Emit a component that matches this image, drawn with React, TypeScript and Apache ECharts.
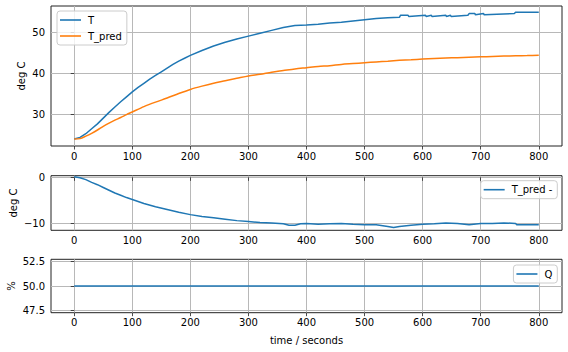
import React, { useEffect, useRef } from 'react';
import * as echarts from 'echarts';

// ---- data ----
const tTime = [0, 10, 20, 30, 40, 50, 60, 70, 80, 90, 100, 110, 120, 130, 140, 150, 160, 170, 180, 190, 200, 220, 240, 260, 280, 300, 320, 340, 360, 380, 400, 420, 440, 460, 480, 500, 520, 540, 560, 562, 575, 576, 605, 606, 615, 616, 640, 641, 648, 649, 678, 680, 690, 691, 705, 706, 758, 760, 800];
const tValues = [24.0, 24.4, 25.3, 26.5, 27.7, 29.1, 30.5, 31.8, 33.1, 34.3, 35.5, 36.6, 37.6, 38.6, 39.5, 40.4, 41.3, 42.2, 43.0, 43.7, 44.4, 45.6, 46.7, 47.6, 48.4, 49.1, 49.8, 50.5, 51.2, 51.7, 51.8, 52.0, 52.3, 52.5, 52.8, 53.1, 53.4, 53.6, 53.7, 54.2, 54.2, 53.9, 54.2, 53.9, 54.2, 53.9, 54.2, 53.9, 54.2, 53.9, 54.2, 54.6, 54.6, 54.3, 54.6, 54.3, 54.6, 54.9, 54.9];

const predTime = [0, 10, 20, 30, 40, 50, 60, 70, 80, 90, 100, 120, 140, 160, 180, 200, 220, 240, 260, 280, 300, 320, 340, 360, 380, 400, 420, 440, 460, 480, 500, 520, 540, 560, 580, 600, 620, 640, 660, 680, 700, 720, 740, 760, 780, 800];
const predValues = [24.0, 24.1, 24.7, 25.4, 26.2, 27.1, 27.9, 28.6, 29.25, 29.95, 30.6, 31.9, 33.0, 34.0, 35.1, 36.1, 36.9, 37.6, 38.2, 38.8, 39.4, 39.8, 40.3, 40.7, 41.1, 41.4, 41.7, 41.9, 42.2, 42.4, 42.6, 42.8, 43.0, 43.2, 43.35, 43.5, 43.65, 43.75, 43.85, 43.95, 44.05, 44.15, 44.25, 44.3, 44.35, 44.45];

const diffTime = [0, 10, 20, 30, 40, 50, 60, 70, 80, 90, 100, 120, 140, 160, 180, 200, 220, 240, 260, 280, 300, 320, 340, 360, 370, 380, 390, 400, 420, 440, 460, 480, 500, 520, 540, 550, 560, 580, 600, 620, 640, 660, 680, 700, 720, 740, 760, 762, 780, 800];
const diffValues = [0.1, -0.1, -0.5, -1.1, -1.6, -2.2, -2.8, -3.4, -3.9, -4.4, -4.8, -5.7, -6.4, -7.0, -7.6, -8.1, -8.5, -8.8, -9.1, -9.4, -9.6, -9.8, -9.9, -10.1, -10.4, -10.4, -10.1, -10.0, -10.2, -10.1, -10.0, -10.2, -10.3, -10.3, -10.7, -10.9, -10.7, -10.4, -10.2, -10.1, -9.9, -10.0, -10.3, -10.0, -10.0, -9.9, -10.0, -10.3, -10.3, -10.3];

const qTime = [0, 800];
const qValues = [50, 50];

const xTicks = [0, 100, 200, 300, 400, 500, 600, 700, 800];
const yTicksTop = [30, 40, 50];
const yTicksMid = [-10, 0];
const yTicksBot = [47.5, 50, 52.5];

const seriesNames = ['T', 'T_pred', 'T_pred -', 'Q'];
const axisTitles = { left: 'deg C', leftPct: '%', bottom: 'time / seconds' };

const pairs = (xs: number[], ys: number[]) => xs.map((x, i) => [x, ys[i]]);

const BLUE = '#1f77b4';
const ORANGE = '#ff7f0e';
const FONT = 'DejaVu Sans';
const TEXT = '#000';
const SPINE = '#222';
const GRIDC = '#b8b8b8';

const fmtMinus = (v: number) => String(v).replace('-', '\u2212');

function xAxisFor(gridIndex: number) {
  return {
    type: 'value',
    gridIndex,
    min: -40,
    max: 840,
    axisLine: { show: false },
    axisTick: { show: true, customValues: xTicks, length: 3.5, lineStyle: { color: SPINE, width: 0.8 } },
    axisLabel: { customValues: xTicks, margin: 5, color: TEXT, fontFamily: FONT, fontSize: 10, formatter: (v: number) => fmtMinus(v) },
    splitLine: { show: true, lineStyle: { color: GRIDC, width: 1 } },
  };
}

function yAxisFor(gridIndex: number, min: number, max: number, ticks: number[], fmt: (v: number) => string) {
  return {
    type: 'value',
    gridIndex,
    min,
    max,
    axisLine: { show: false },
    axisTick: { show: true, customValues: ticks, length: 3.5, lineStyle: { color: SPINE, width: 0.8 } },
    axisLabel: { customValues: ticks, margin: 6, color: TEXT, fontFamily: FONT, fontSize: 10, formatter: fmt },
    splitLine: { show: true, lineStyle: { color: GRIDC, width: 1 } },
  };
}

const legendBase = {
  orient: 'vertical',
  backgroundColor: 'rgba(255,255,255,0.8)',
  borderColor: '#cccccc',
  borderWidth: 1,
  borderRadius: 3,
  padding: [3, 5, 3, 3],
  icon: 'rect',
  symbolKeepAspect: false,
  itemWidth: 21,
  itemHeight: 1.6,
  itemGap: 4,
  textStyle: { color: TEXT, fontFamily: FONT, fontSize: 10, lineHeight: 12, padding: [0, 0, 0, 2] },
};

export default function App() {
  const ref = useRef<HTMLDivElement>(null);
  useEffect(() => {
    const chart = echarts.init(ref.current!, null, { renderer: 'svg' });
    const option: any = {
      animation: false,
      backgroundColor: '#ffffff',
      grid: [
        { left: 51, top: 6, width: 511, height: 140, show: true, borderColor: SPINE, borderWidth: 1, backgroundColor: 'transparent' },
        { left: 51, top: 175.7, width: 511, height: 54.6, show: true, borderColor: SPINE, borderWidth: 1, backgroundColor: 'transparent' },
        { left: 51, top: 259.3, width: 511, height: 53.4, show: true, borderColor: SPINE, borderWidth: 1, backgroundColor: 'transparent' },
      ],
      xAxis: [xAxisFor(0), xAxisFor(1), xAxisFor(2)],
      yAxis: [
        yAxisFor(0, 22.3, 56.45, yTicksTop, (v) => fmtMinus(v)),
        yAxisFor(1, -11.5, 0.35, yTicksMid, (v) => fmtMinus(v)),
        yAxisFor(2, 47.25, 52.75, yTicksBot, (v) => v.toFixed(1)),
      ],
      legend: [
        { ...legendBase, left: 57, top: 11, data: [seriesNames[0], seriesNames[1]] },
        { ...legendBase, right: 10.7, top: 180.7, data: [seriesNames[2]] },
        { ...legendBase, right: 10.7, top: 265, data: [seriesNames[3]] },
      ],
      series: [
        { name: seriesNames[0], type: 'line', xAxisIndex: 0, yAxisIndex: 0, data: pairs(tTime, tValues), symbol: 'none', lineStyle: { color: BLUE, width: 1.5 }, itemStyle: { color: BLUE } },
        { name: seriesNames[1], type: 'line', xAxisIndex: 0, yAxisIndex: 0, data: pairs(predTime, predValues), symbol: 'none', smooth: 0.3, lineStyle: { color: ORANGE, width: 1.5 }, itemStyle: { color: ORANGE } },
        { name: seriesNames[2], type: 'line', xAxisIndex: 1, yAxisIndex: 1, data: pairs(diffTime, diffValues), symbol: 'none', lineStyle: { color: BLUE, width: 1.5 }, itemStyle: { color: BLUE } },
        { name: seriesNames[3], type: 'line', xAxisIndex: 2, yAxisIndex: 2, data: pairs(qTime, qValues), symbol: 'none', lineStyle: { color: BLUE, width: 1.5 }, itemStyle: { color: BLUE } },
      ],
      graphic: [
        { type: 'text', x: 21, y: 76, rotation: Math.PI / 2, style: { text: axisTitles.left, fill: TEXT, font: `10px "${FONT}"`, textAlign: 'center', textVerticalAlign: 'middle' } },
        { type: 'text', x: 13.5, y: 203, rotation: Math.PI / 2, style: { text: axisTitles.left, fill: TEXT, font: `10px "${FONT}"`, textAlign: 'center', textVerticalAlign: 'middle' } },
        { type: 'text', x: 11, y: 286, rotation: Math.PI / 2, style: { text: axisTitles.leftPct, fill: TEXT, font: `10px "${FONT}"`, textAlign: 'center', textVerticalAlign: 'middle' } },
        { type: 'text', x: 306.5, y: 340, style: { text: axisTitles.bottom, fill: TEXT, font: `10px "${FONT}"`, textAlign: 'center', textVerticalAlign: 'middle' } },
      ],
    };
    chart.setOption(option);
    return () => chart.dispose();
  }, []);
  return <div ref={ref} style={{ position: 'fixed', left: 0, top: 0, width: 568, height: 352 }} />;
}
